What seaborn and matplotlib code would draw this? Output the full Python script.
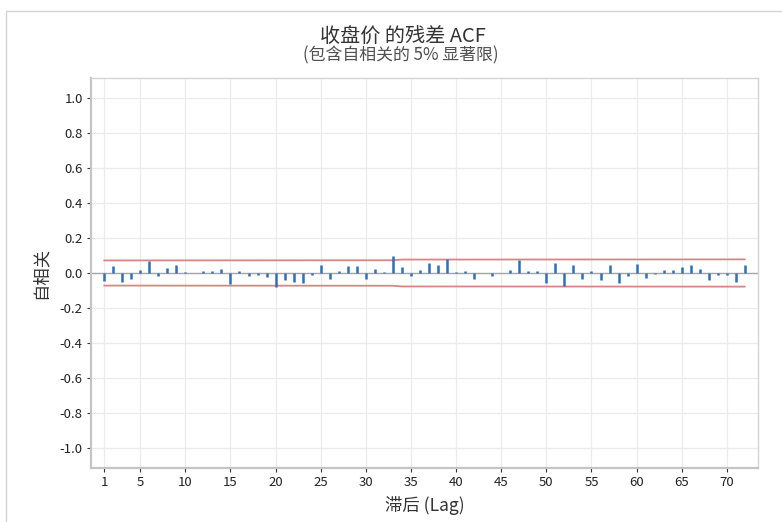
import numpy as np
import pandas as pd
import seaborn as sns
import matplotlib.pyplot as plt
from matplotlib.patches import Rectangle

# residual ACF values, lags 1..72
lags = list(range(1, 73))
acf = [-0.044, 0.040, -0.053, -0.034, 0.015, 0.069, -0.015, 0.027, 0.046, 0.006,
       0.002, 0.011, 0.013, 0.025, -0.061, 0.013, -0.017, -0.010, -0.023, -0.082,
       -0.042, -0.050, -0.055, -0.013, 0.044, -0.032, 0.011, 0.040, 0.038, -0.032,
       0.023, 0.006, 0.097, 0.036, -0.017, 0.019, 0.055, 0.048, 0.082, 0.008,
       0.010, -0.032, 0.001, -0.015, 0.000, 0.015, 0.076, 0.013, 0.010, -0.059,
       0.057, -0.075, 0.046, -0.032, 0.011, -0.038, 0.046, -0.055, -0.017, 0.052,
       -0.027, -0.008, 0.015, 0.015, 0.032, 0.046, 0.023, -0.038, -0.013, -0.011,
       -0.053, 0.044]

# 5% significance limits (breakpoints)
limit_lags = [1, 33, 34, 72]
limit_vals = [0.072, 0.073, 0.077, 0.078]

xticks = [1, 5, 10, 15, 20, 25, 30, 35, 40, 45, 50, 55, 60, 65, 70]
yticks = [-1.0, -0.8, -0.6, -0.4, -0.2, 0.0, 0.2, 0.4, 0.6, 0.8, 1.0]

title = '收盘价 的残差 ACF'
subtitle = '(包含自相关的 5% 显著限)'
xlabel = '滞后 (Lag)'
ylabel = '自相关'

sns.set_theme(style='whitegrid')
plt.rcParams['font.family'] = ['Noto Sans CJK SC', 'DejaVu Sans']
plt.rcParams['axes.unicode_minus'] = False

df = pd.DataFrame({'lag': lags, 'acf': acf})
lim = pd.DataFrame({'lag': limit_lags, 'upper': limit_vals,
                    'lower': [-v for v in limit_vals]})

fig = plt.figure(figsize=(7.82, 5.22), dpi=100)
fig.patches.append(Rectangle((0.008, -0.01), 1.0, 0.988, transform=fig.transFigure,
                             fill=False, edgecolor='#d4d4d4', linewidth=1.0))
ax = fig.add_axes([0.1164, 0.1034, 0.8529, 0.7472])

ax.axhline(0, color='#a6a6a6', linewidth=1.0, zorder=1)
sns.lineplot(data=lim, x='lag', y='upper', ax=ax, color='#da8585', linewidth=1.3)
sns.lineplot(data=lim, x='lag', y='lower', ax=ax, color='#da8585', linewidth=1.3)
ax.vlines(df['lag'], 0, df['acf'], color='#2f6fb8', linewidth=1.8, zorder=3)

ax.set_xlim(-0.45, 73.45)
ax.set_ylim(-1.117, 1.117)
ax.set_xticks(xticks)
ax.set_yticks(yticks)
ax.set_yticklabels(['%.1f' % v for v in yticks])
ax.grid(True, color='#ebebeb', linewidth=0.9)
ax.tick_params(axis='both', labelsize=9.5, colors='#333333', length=3, width=0.8,
               direction='out', left=True, bottom=True, pad=3)
for lab in ax.get_xticklabels() + ax.get_yticklabels():
    lab.set_color('#222222')

for side in ['left', 'bottom']:
    ax.spines[side].set_color('#c4c4c4')
    ax.spines[side].set_linewidth(1.6)
for side in ['top', 'right']:
    ax.spines[side].set_color('#d4d4d4')
    ax.spines[side].set_linewidth(1.0)

ax.set_xlabel(xlabel, fontsize=12.5, color='#333333', labelpad=5)
ax.set_ylabel(ylabel, fontsize=12.5, color='#333333', labelpad=7)

fig.text(0.515, 0.929, title, ha='center', va='center', fontsize=14.5, color='#333333')
fig.text(0.512, 0.893, subtitle, ha='center', va='center', fontsize=12.2, color='#505050')

fig.savefig('out.png', dpi=100)
